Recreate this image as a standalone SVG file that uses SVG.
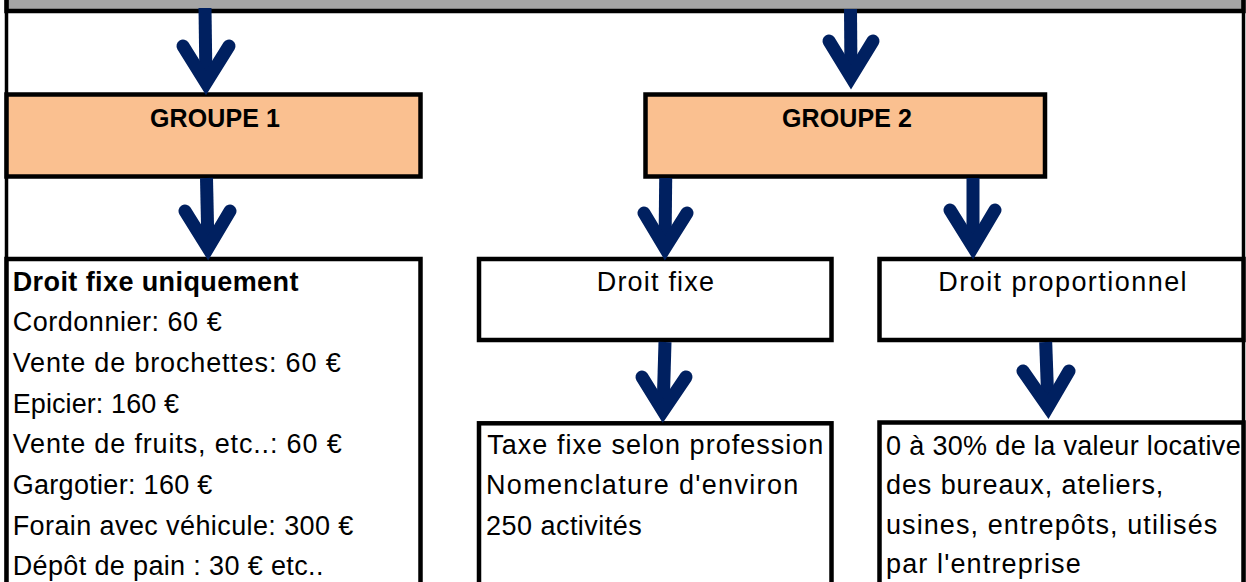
<svg xmlns="http://www.w3.org/2000/svg" width="1246" height="582" viewBox="0 0 1246 582">
<style>
.box{stroke:#000;stroke-width:4.5;fill:#fff}
.grp{stroke:#000;stroke-width:4.5;fill:#FAC090}
.t{font-family:"Liberation Sans",Arial,sans-serif;font-size:27px;fill:#000}
.b{font-weight:bold}
.h{font-family:"Liberation Sans",Arial,sans-serif;font-size:25px;font-weight:bold;fill:#000}
.shaft{stroke:#002060;stroke-width:13;fill:none;stroke-linecap:butt}
.head{stroke:#002060;stroke-width:13;fill:none;stroke-linecap:round;stroke-linejoin:miter;stroke-miterlimit:10}
</style>
<rect width="1246" height="582" fill="#fff"/>
<g id="frame">
<rect x="6.5" y="-20" width="1237" height="31" fill="#A6A6A6" stroke="#000" stroke-width="4.5"/>
<line x1="6.5" y1="0" x2="6.5" y2="582" stroke="#000" stroke-width="3.5"/>
<line x1="1243.5" y1="0" x2="1243.5" y2="582" stroke="#000" stroke-width="3.5"/>
</g>
<g id="groupe1">
<rect class="grp" x="6.5" y="94.5" width="414" height="82"/>
<text class="h" x="215" y="126.7" text-anchor="middle" textLength="130">GROUPE 1</text>
</g>
<g id="groupe2">
<rect class="grp" x="645.5" y="94.5" width="399.5" height="82"/>
<text class="h" x="847" y="126.7" text-anchor="middle" textLength="130">GROUPE 2</text>
</g>
<g id="droit-fixe-uniquement">
<rect class="box" x="6.5" y="259" width="414" height="340"/>
<text class="t b" x="12.7" y="290.7" textLength="285.7">Droit fixe uniquement</text>
<text class="t" x="12.7" y="331.3" textLength="209">Cordonnier: 60 €</text>
<text class="t" x="12.7" y="372" textLength="328">Vente de brochettes: 60 €</text>
<text class="t" x="12.7" y="412.7" textLength="166.3">Epicier: 160 €</text>
<text class="t" x="12.7" y="453.3" textLength="329">Vente de fruits, etc..: 60 €</text>
<text class="t" x="12.7" y="494" textLength="199.7">Gargotier: 160 €</text>
<text class="t" x="12.7" y="534.7" textLength="340.7">Forain avec véhicule: 300 €</text>
<text class="t" x="12.7" y="575.3" textLength="310.7">Dépôt de pain : 30 € etc..</text>
</g>
<g id="droit-fixe">
<rect class="box" x="479" y="259" width="352.5" height="81"/>
<text class="t" x="596.7" y="291" textLength="117.3">Droit fixe</text>
</g>
<g id="droit-proportionnel">
<rect class="box" x="879.5" y="259" width="364" height="81"/>
<text class="t" x="938.3" y="291" textLength="248.3">Droit proportionnel</text>
</g>
<g id="taxe-fixe">
<rect class="box" x="479" y="423.3" width="352.5" height="200"/>
<text class="t" x="487.3" y="454.3" textLength="336">Taxe fixe selon profession</text>
<text class="t" x="486" y="494.3" textLength="312.3">Nomenclature d'environ</text>
<text class="t" x="486" y="535" textLength="155.7">250 activités</text>
</g>
<g id="valeur-locative">
<rect class="box" x="879.5" y="422.5" width="364" height="200"/>
<text class="t" x="886" y="455" textLength="354.7">0 à 30% de la valeur locative</text>
<text class="t" x="886" y="494.3" textLength="277.3">des bureaux, ateliers,</text>
<text class="t" x="886" y="534" textLength="331.3">usines, entrepôts, utilisés</text>
<text class="t" x="886" y="573.3" textLength="194.7">par l'entreprise</text>
</g>
<g id="connectors">
<g><path class="shaft" d="M205,8 L206,83"/><path class="head" d="M183,46 L206,83 L229,46"/></g>
<g><path class="shaft" d="M850.5,9 L851,77"/><path class="head" d="M829,41 L851,77 L873,41"/></g>
<g><path class="shaft" d="M206.5,178 L208,248"/><path class="head" d="M185,211 L208,248 L230,211"/></g>
<g><path class="shaft" d="M665.7,178 L665,248"/><path class="head" d="M644,213 L665,248 L687,213"/></g>
<g><path class="shaft" d="M973,178 L973,247"/><path class="head" d="M950,210 L973,247 L995,210"/></g>
<g><path class="shaft" d="M665,342 L663,411"/><path class="head" d="M642,377 L663,411 L686,377"/></g>
<g><path class="shaft" d="M1045.7,342 L1048,407"/><path class="head" d="M1023,371 L1048,407 L1069,371"/></g>
</g>
</svg>
